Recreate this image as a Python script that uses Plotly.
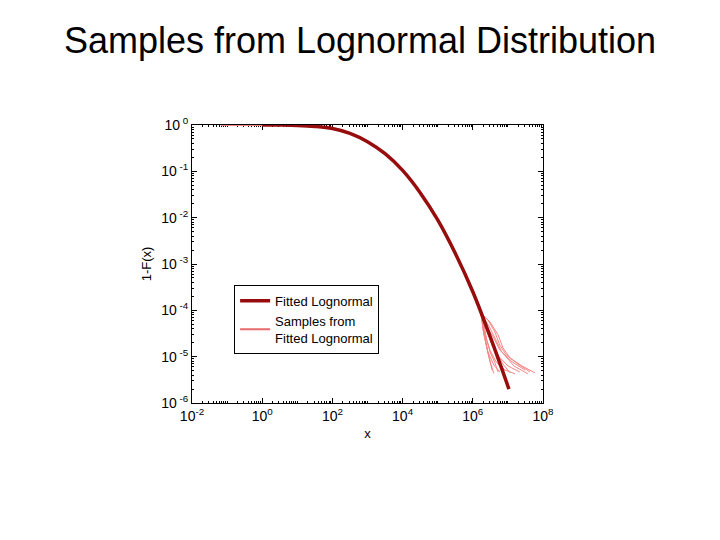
import numpy as np
import plotly.graph_objects as go

# ---- data (log10 values) ----
fit_log_x = [0.0, 0.5, 1.0, 1.5, 2.0, 2.5, 3.0, 3.5, 4.0, 4.5, 5.0, 5.5, 6.0, 6.5, 7.03]
fit_log_y = [0.0, -0.002, -0.009, -0.03, -0.075, -0.18, -0.36, -0.62, -0.98, -1.46, -2.05, -2.77, -3.6, -4.58, -5.70]

# common body of the sample curves (min sample up to start of tail)
body_log_x = [-1.17, 0.0, 0.5, 1.0, 1.5, 2.0, 2.5, 3.0, 3.5, 4.0, 4.5, 5.0, 5.5, 5.8, 6.0, 6.23]
body_log_y = [0.0, 0.0, -0.002, -0.009, -0.03, -0.075, -0.18, -0.36, -0.62, -0.98, -1.46, -2.05, -2.77, -3.25, -3.6, -4.06]

# tails of the individual sample curves
tails_log_x = [
    [6.23, 6.49, 6.72, 6.86, 7.06, 7.40, 7.77],
    [6.23, 6.43, 6.63, 6.77, 6.95, 7.29, 7.63],
    [6.23, 6.38, 6.60, 6.77, 7.12, 7.49],
    [6.23, 6.40, 6.55, 6.72, 7.00, 7.34],
    [6.23, 6.35, 6.49, 6.66, 6.92, 7.20],
    [6.23, 6.29, 6.38, 6.46, 6.55],
    [6.23, 6.32, 6.43, 6.60, 6.77],
    [6.23, 6.38, 6.52, 6.69, 6.86, 7.06],
    [6.23, 6.46, 6.66, 6.83, 7.17, 7.57],
    [6.23, 6.32, 6.40, 6.49, 6.63, 6.72],
    [6.23, 6.36, 6.47, 6.58, 6.70, 6.90],
    [6.23, 6.30, 6.36, 6.44, 6.51, 6.60],
]
tails_log_y = [
    [-4.06, -4.25, -4.53, -4.81, -5.03, -5.20, -5.35],
    [-4.06, -4.21, -4.47, -4.75, -4.96, -5.16, -5.33],
    [-4.06, -4.32, -4.60, -4.86, -5.11, -5.29],
    [-4.06, -4.42, -4.75, -4.98, -5.20, -5.33],
    [-4.06, -4.53, -4.86, -5.11, -5.29, -5.37],
    [-4.06, -4.42, -4.75, -5.03, -5.29],
    [-4.06, -4.53, -4.90, -5.18, -5.33],
    [-4.06, -4.38, -4.68, -4.92, -5.16, -5.35],
    [-4.06, -4.34, -4.64, -4.90, -5.20, -5.37],
    [-4.06, -4.32, -4.64, -4.90, -5.13, -5.33],
    [-4.06, -4.30, -4.55, -4.80, -5.05, -5.30],
    [-4.06, -4.35, -4.65, -4.95, -5.15, -5.36],
]

x_tick_exp = [-2, 0, 2, 4, 6, 8]
y_tick_exp = [0, -1, -2, -3, -4, -5, -6]

FIT_COLOR = "#970C0C"
SAMPLE_COLOR = "#F58585"
SAMPLE_LEGEND_COLOR = "#E86A6A"
FONT = "Liberation Sans, Arial, sans-serif"

fig = go.Figure()

for i, (tx, ty) in enumerate(zip(tails_log_x, tails_log_y)):
    lx = np.array(body_log_x[:-1] + tx)
    ly = np.array(body_log_y[:-1] + ty)
    fig.add_trace(go.Scatter(
        x=10 ** lx, y=10 ** ly, mode="lines",
        line=dict(color=SAMPLE_COLOR, width=1),
        showlegend=False, legendgroup="s", hoverinfo="skip",
    ))

# legend entry for the samples (drawn slightly bolder, like the reference)
fig.add_trace(go.Scatter(
    x=[None], y=[None], mode="lines",
    line=dict(color=SAMPLE_LEGEND_COLOR, width=2),
    name="Samples from<br>Fitted Lognormal", legendrank=2, legendgroup="s",
))

fig.add_trace(go.Scatter(
    x=10 ** np.array(fit_log_x), y=10 ** np.array(fit_log_y), mode="lines",
    line=dict(color=FIT_COLOR, width=3.5, shape="spline", smoothing=1.0),
    name="Fitted Lognormal", legendrank=1,
))

axis_common = dict(
    type="log", showgrid=False, zeroline=False, layer="below traces",
    showline=True, linecolor="black", linewidth=1, mirror="ticks",
    ticks="inside", ticklen=5, tickcolor="black",
    minor=dict(ticks="inside", ticklen=2, tickcolor="black", dtick="D1"),
    tickfont=dict(family=FONT, size=14, color="black"),
)

fig.update_xaxes(
    **axis_common, range=[-2, 8],
    tickvals=[10.0 ** e for e in x_tick_exp],
    ticktext=[f"10<sup>{e}</sup>" for e in x_tick_exp],
    title=dict(text="x", font=dict(family=FONT, size=13, color="black"), standoff=6),
)
fig.update_yaxes(
    **axis_common, range=[-6, 0],
    tickvals=[10.0 ** e for e in y_tick_exp],
    ticktext=[f"10<sup> {e}</sup>" for e in y_tick_exp],
    title=dict(text="1-F(x)", font=dict(family=FONT, size=13, color="black"), standoff=6),
)

fig.update_layout(
    width=720, height=540,
    margin=dict(l=192, r=177, t=125, b=137),
    paper_bgcolor="white", plot_bgcolor="white",
    title=dict(text="Samples from Lognormal Distribution", x=0.5, xanchor="center",
               y=0.926, yanchor="middle",
               font=dict(family=FONT, size=36, color="black")),
    legend=dict(x=0.12, y=0.425, xanchor="left", yanchor="top",
                bgcolor="white", bordercolor="black", borderwidth=1,
                font=dict(family=FONT, size=13, color="black"),
                tracegroupgap=0, itemwidth=30),
    showlegend=True,
)

fig.write_html("out.html")
